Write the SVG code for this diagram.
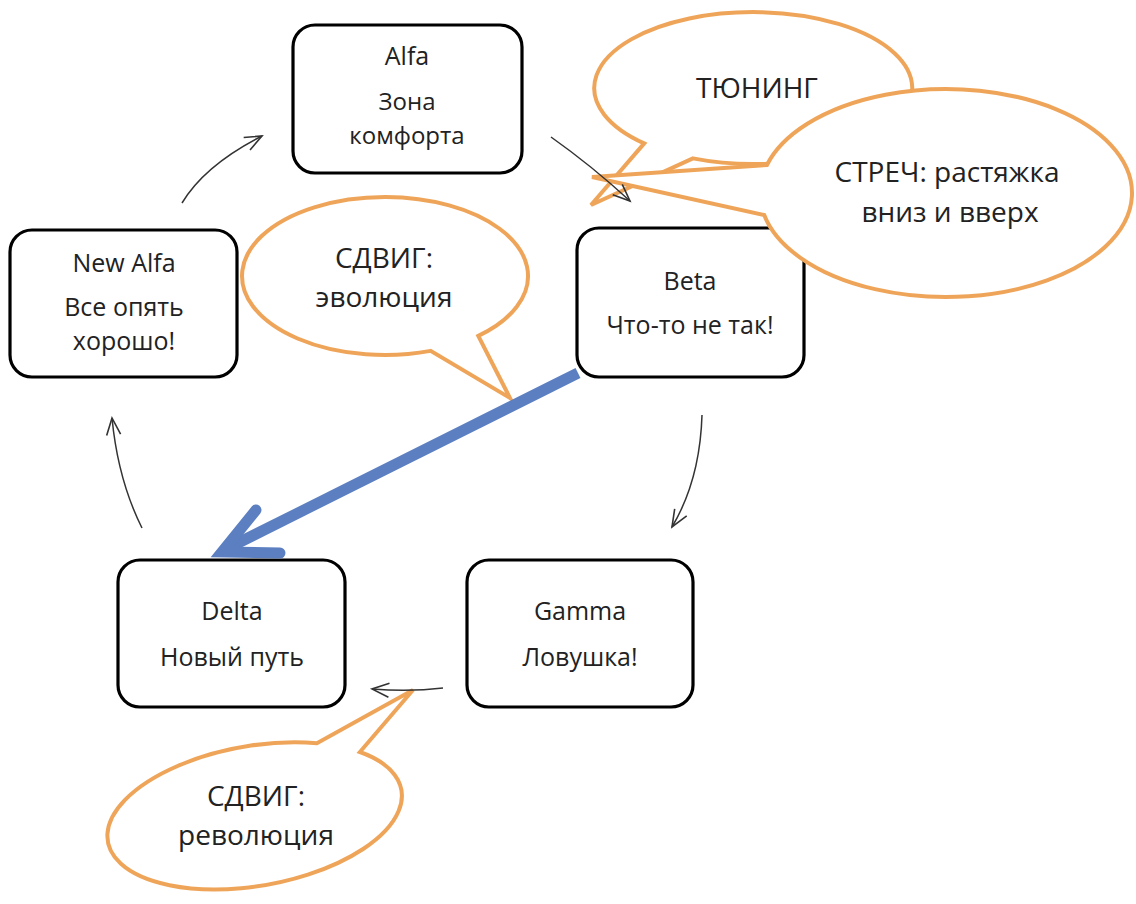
<svg xmlns="http://www.w3.org/2000/svg" width="1136" height="904" viewBox="0 0 1136 904">
<style>
.box{fill:#fff;stroke:#000;stroke-width:3.2}
.t{font-family:"Open Sans","Liberation Sans",sans-serif;font-size:25px;fill:#222;text-anchor:middle}
.ct{font-family:"Open Sans","Liberation Sans",sans-serif;font-size:28px;fill:#222;text-anchor:middle}
.call{fill:#fff;stroke:#EFA559;stroke-width:4;stroke-linejoin:miter}
.thin{fill:none;stroke:#333;stroke-width:1.5;marker-end:url(#open)}
</style>
<defs>
<marker id="open" markerUnits="userSpaceOnUse" viewBox="-20 -10 22 20" markerWidth="22" markerHeight="20" refX="0" refY="0" orient="auto" overflow="visible">
<path d="M-17,-7 L0,0 L-17,7" fill="none" stroke="#333" stroke-width="1.6"/>
</marker>
</defs>
<rect width="1136" height="904" fill="#fff"/>
<g id="alfa"><rect class="box" x="293" y="25" width="229" height="148" rx="22"/>
<text class="t" x="407" y="65">Alfa</text><text class="t" x="407" y="110" style="font-size:24px">Зона</text><text class="t" x="407" y="144" style="font-size:24px">комфорта</text></g>
<g id="newalfa"><rect class="box" x="10" y="230" width="227" height="147" rx="22"/>
<text class="t" x="124" y="272">New Alfa</text><text class="t" x="124" y="316">Все опять</text><text class="t" x="124" y="350">хорошо!</text></g>
<g id="beta"><rect class="box" x="577" y="228" width="227" height="149" rx="22"/>
<text class="t" x="690" y="290">Beta</text><text class="t" x="690" y="334">Что-то не так!</text></g>
<g id="delta"><rect class="box" x="118" y="560" width="227" height="147" rx="22"/>
<text class="t" x="232" y="620">Delta</text><text class="t" x="232" y="666">Новый путь</text></g>
<g id="gamma"><rect class="box" x="467" y="560" width="226" height="147" rx="22"/>
<text class="t" x="580" y="620">Gamma</text><text class="t" x="580" y="666">Ловушка!</text></g>
<g id="callout-tuning"><path class="call" d="M692.9 158.4 A159 76 0 1 0 644.2 143.4 L591 205 Z"/>
<text class="ct" x="757" y="98">ТЮНИНГ</text></g>
<g id="callout-stretch"><path class="call" d="M766.9 165 A186 104 0 1 1 764.2 215 L592 177 Z"/>
<text class="ct" x="947" y="182">СТРЕЧ: растяжка</text><text class="ct" x="950" y="222">вниз и вверх</text></g>
<g id="callout-evolution"><path class="call" d="M478.3 335.9 A143 79 0 1 0 430.6 350.9 L510 398 Z"/>
<text class="ct" x="384" y="268">СДВИГ:</text><text class="ct" x="384" y="307">эволюция</text></g>
<g id="callout-revolution"><path class="call" d="M359.9 752 A149 70 -10 1 1 316.9 743.2 L413 690 Z"/>
<text class="ct" x="256" y="806">СДВИГ:</text><text class="ct" x="256" y="845">революция</text></g>
<g id="connectors">
<path class="thin" d="M182 203 Q205 165 262 136"/>
<path class="thin" d="M551 137 Q592 166 630 201"/>
<path class="thin" d="M702 415 Q700 480 672 527"/>
<path class="thin" d="M443 688 Q410 692 372 689"/>
<path class="thin" d="M142 528 Q118 480 112 418"/>
<g fill="none" stroke="#5B7FC1" stroke-width="11">
<line x1="578" y1="373" x2="226" y2="549" stroke-linecap="butt"/>
<polyline points="256,510 222,552 280,553" stroke-linejoin="miter" stroke-linecap="round"/>
</g>
</g>
</svg>
